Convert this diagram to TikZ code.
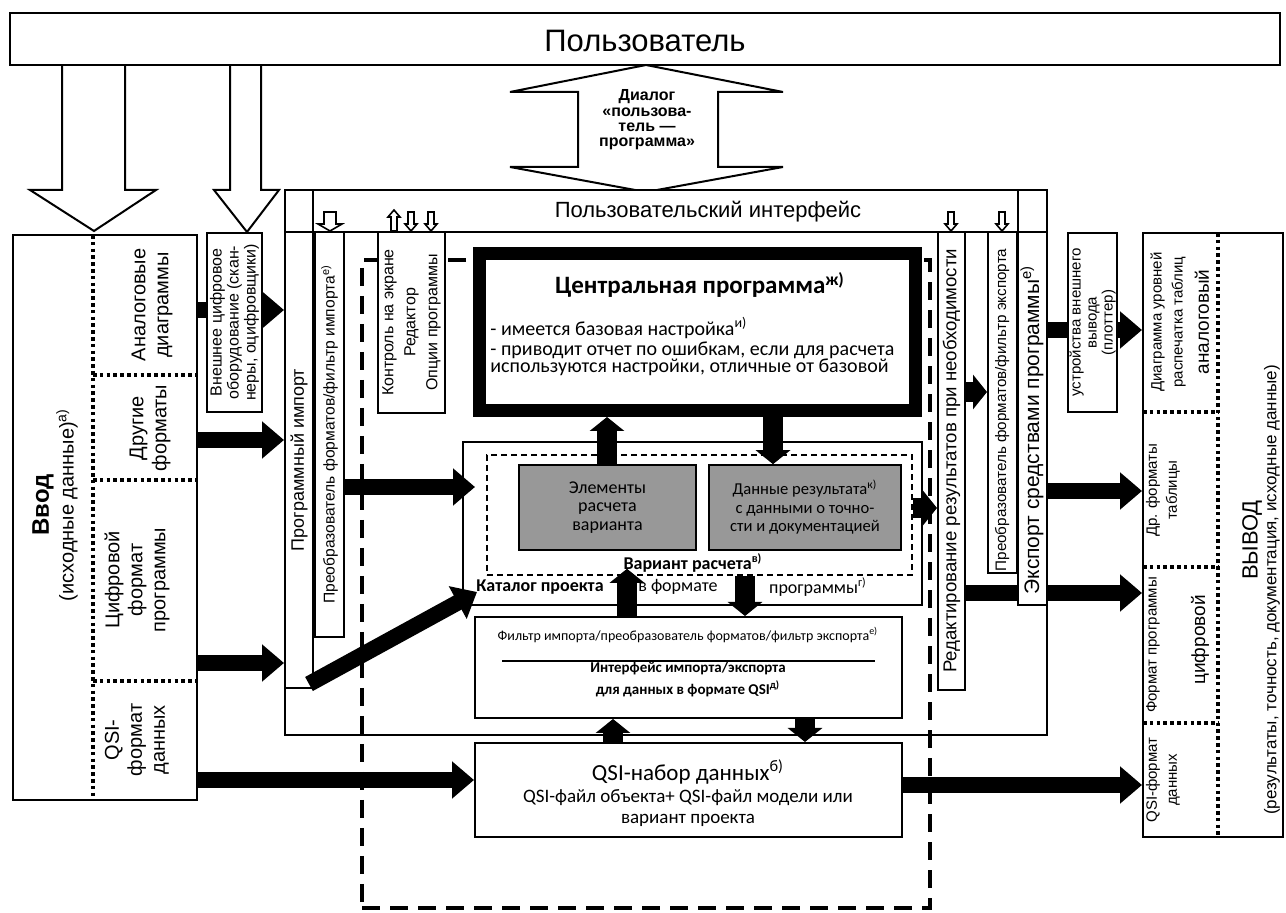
\documentclass[tikz,border=0pt]{standalone}
\usepackage{fontspec}
\setmainfont{Liberation Sans}
\newfontfamily\calfont{Carlito}
\usetikzlibrary{arrows.meta,fit,calc}
\newcommand\fz[2]{\fontsize{#1}{#2}\selectfont}
\definecolor{boxgray}{RGB}{152,152,152}
\newcommand\sarrow[6]{%
  \draw[hollow] ({#1-#2},#4) -- ({#1-#2},#5) -- ({#1-#3},#5) -- (#1,#6) -- ({#1+#3},#5) -- ({#1+#2},#5) -- ({#1+#2},#4) -- cycle;}
\tikzset{
 bx/.style={draw, line width=1pt, fill=white, inner sep=0pt},
 harr/.style={line width=8pt, -{Triangle[length=11pt,width=18pt]}},
 varr/.style={line width=10pt, -{Triangle[length=7pt,width=17pt]}},
 hollow/.style={draw, line width=0.8pt, fill=white, line join=miter},
 bighollow/.style={draw, line width=1pt, fill=white, line join=miter},
 dotl/.style={line width=1.8pt, dash pattern=on 1.8pt off 1.6pt},
 dsh/.style={draw, line width=1.6pt, dash pattern=on 9pt off 5pt, inner sep=0pt},
 txt/.style={inner sep=0pt, align=center},
 vt/.style={txt, rotate=90},
}
\begin{document}
\begin{tikzpicture}[x=0.5pt,y=-0.5pt]
\useasboundingbox (0,0) rectangle (1286,913);
\fill[white] (0,0) rectangle (1286,913);

% ---------- input and output boxes
\node[bx, fit={(13,235) (197,800)}] (inbox) {};
\draw[dotl] (93,235) -- (93,800);
\draw[dotl] (93,375) -- (197,375);
\draw[dotl] (93,480) -- (197,480);
\draw[dotl] (93,681) -- (197,681);
\node[vt, font=\bfseries\fz{12}{14}] (tIn1) at (43,505) {Ввод};
\node[vt, font=\fz{10}{12}] (tIn2) at (67,505) {(исходные данные)\textsuperscript{а)}};
\node[vt, font=\fz{10}{11.5}] (tInA) at (152,305) {Аналоговые\\диаграммы};
\node[vt, font=\fz{10}{11.5}] (tInB) at (150,428) {Другие\\форматы};
\node[vt, font=\fz{10}{11.5}] (tInC) at (137,580) {Цифровой\\формат\\программы};
\node[vt, font=\fz{10}{11.5}] (tInD) at (137,740) {QSI-\\формат\\данных};

\node[bx, fit={(1143,233) (1283,837)}] (outbox) {};
\draw[dotl] (1218,233) -- (1218,837);
\draw[dotl] (1143,412) -- (1218,412);
\draw[dotl] (1143,567) -- (1218,567);
\draw[dotl] (1143,723) -- (1218,723);
\node[vt, font=\fz{7.5}{10.5}] (tOutA) at (1168,322) {Диаграмма уровней\\распечатка таблиц};
\node[vt, font=\fz{9.5}{11}] (tOutA2) at (1202,322) {аналоговый};
\node[vt, font=\fz{7.5}{10}] (tOutB) at (1163,490) {Др. форматы\\таблицы};
\node[vt, font=\fz{7.5}{10}] (tOutC) at (1153,645) {Формат программы};
\node[vt, font=\fz{9.5}{11}] (tOutC2) at (1200,640) {цифровой};
\node[vt, font=\fz{7.5}{10}] (tOutD) at (1163,780) {QSI-формат\\данных};
\node[vt, font=\fz{11}{13}] (tOut1) at (1252,540) {ВЫВОД};
\node[vt, font=\fz{8.5}{10}] (tOut2) at (1272,590) {(результаты, точность, документация, исходные данные)};

% ---------- user and big hollow arrows
\draw[bighollow] (62,65) -- (62,190) -- (30,190) -- (94,231) -- (156,190) -- (125,190) -- (125,65);
\draw[bighollow] (230,65) -- (230,190) -- (214,190) -- (247,232) -- (279,190) -- (261,190) -- (261,65);
\node[bx, fit={(10,13) (1280,65)}] (user) {};
\node[txt, font=\fz{15.5}{17}] (tUser) at (645,41) {Пользователь};

% dialog double arrow
\draw[bighollow] (578,92) -- (510,92) -- (646,65) -- (783,92) -- (718,92) -- (718,167) -- (783,167) -- (646,192) -- (510,167) -- (578,167) -- cycle;
\node[txt, font=\bfseries\fz{8}{7.7}] (tDlg) at (647,120) {Диалог\\«пользова-\\тель —\\программа»};

% ---------- interface
\node[bx, fit={(285,190) (1047,735)}] (iface) {};
\node[dsh, fit={(362,260) (930,908)}] (core) {};
\draw[line width=1pt] (285,232) -- (1047,232);
\draw[line width=1pt] (313,190) -- (313,232);
\node[txt, font=\fz{11}{13}] (tIface) at (708,212) {Пользовательский интерфейс};

\node[bx, fit={(285,232) (313,688)}] (impL) {};
\node[vt, font=\fz{9}{10}] (tImpL) at (impL.center) {Программный импорт};
\node[bx, fit={(315,232) (344,637)}] (convL) {};
\node[vt, font=\fz{7.8}{9}] (tConvL) at (convL.center) {Преобразователь форматов/фильтр импорта\textsuperscript{е)}};
\node[bx, fit={(378,232) (445,413)}] (ctrl) {};
\node[vt, font=\fz{8}{11}] (tCtrl) at (ctrl.center) {Контроль на экране\\Редактор\\Опции программы};
\node[bx, fit={(938,232) (965,690)}] (edit) {};
\node[vt, font=\fz{9.3}{10}] (tEdit) at (edit.center) {Редактирование результатов при необходимости};
\node[bx, fit={(988,232) (1017,573)}] (convR) {};
\node[vt, font=\fz{7.6}{9}] (tConvR) at (1002,410) {Преобразователь форматов/фильтр экспорта};

% arrows passing behind boxes
\draw[harr] (edit.east |- 0,593) -- (outbox.west |- 0,593);
\node[bx, fit={(1018,190) (1047,605)}] (expR) {};
\draw[line width=1pt] (1018,232) -- (1047,232);
\node[vt, font=\fz{10.5}{12}] (tExpR) at (1032,430) {Экспорт средствами программы\textsuperscript{е)}};
\draw[harr] (expR.east |- 0,330) -- (outbox.west |- 0,330);
\node[bx, fit={(1068,233) (1117,412)}] (outdev) {};
\node[vt, font=\fz{7.5}{8}] (tOutdev) at (outdev.center) {устройства внешнего\\вывода\\(плоттер)};
\draw[harr] (expR.east |- 0,491) -- (outbox.west |- 0,491);

\draw[harr] (inbox.east |- 0,310) -- (iface.west |- 0,310);
\node[bx, fit={(207,233) (262,412)}] (ext) {};
\node[vt, font=\fz{8}{8.5}] (tExt) at (ext.center) {Внешнее цифровое\\оборудование (скан-\\неры, оцифровщики)};
\draw[harr] (inbox.east |- 0,440) -- (iface.west |- 0,440);
\draw[harr] (inbox.east |- 0,663) -- (iface.west |- 0,663);

% small hollow arrows in the interface bar
\sarrow{330}{6}{12}{212}{224}{231}
\sarrow{394}{3}{6}{231}{217}{210}
\sarrow{411}{3}{6}{212}{224}{231}
\sarrow{431}{3}{6}{212}{224}{231}
\sarrow{951}{3}{6}{212}{224}{231}
\sarrow{1002}{3}{6}{212}{224}{231}

% ---------- central program
\node[draw, line width=6.5pt, fill=white, inner sep=0pt, fit={(479.5,253.5) (915.5,410.5)}] (central) {};
\node[txt, font=\calfont\bfseries\fz{12.5}{15}] (tC0) at (700,285) {Центральная программа\textsuperscript{ж)}};
\node[anchor=west, inner sep=0pt, font=\calfont\fz{10}{12}] (tC1) at (490,328) {- имеется базовая настройка\textsuperscript{и)}};
\node[anchor=west, inner sep=0pt, font=\calfont\fz{10}{12}] (tC2) at (490,350) {- приводит отчет по ошибкам, если для расчета};
\node[anchor=west, inner sep=0pt, font=\calfont\fz{10}{12}] (tC3) at (490,367) {используются настройки, отличные от базовой};

% ---------- catalog / variant
\node[bx, fit={(463,442) (922,605)}] (cat) {};
\node[draw, line width=0.8pt, dash pattern=on 3pt off 2pt, inner sep=0pt, fit={(487,455) (912,575)}] (var) {};
\node[draw, line width=0.8pt, fill=boxgray, inner sep=0pt, fit={(519,465) (696,550)}] (elem) {};
\node[draw, line width=0.8pt, fill=boxgray, inner sep=0pt, fit={(709,465) (901,550)}] (data) {};
\node[txt, font=\calfont\fz{9}{9.3}] (tElem) at (elem.center) {Элементы\\расчета\\варианта};
\node[txt, font=\calfont\fz{8.3}{9.3}] (tData) at (data.center) {Данные результата\textsuperscript{к)}\\с данными о точно-\\сти и документацией};
\node[txt, font=\calfont\bfseries\fz{9}{10}] (tVar) at (693,563) {Вариант расчета\textsuperscript{в)}};
\node[txt, font=\calfont\bfseries\fz{9}{10}] (tCat1) at (540,587) {Каталог проекта};
\node[txt, font=\calfont\fz{9}{10}] (tCat2) at (678,587) {в формате};
\node[txt, font=\calfont\fz{9}{10}] (tCat3) at (818,587) {программы\textsuperscript{г)}};

% ---------- filter and QSI
\node[bx, fit={(475,617) (902,718)}] (filt) {};
\node[txt, font=\calfont\fz{7}{8}] (tF1) at (688,635) {Фильтр импорта/преобразователь форматов/фильтр экспорта\textsuperscript{е)}};
\draw[line width=0.6pt] (502,661) -- (875,661);
\node[txt, font=\calfont\bfseries\fz{7.5}{11}] (tF2) at (688,679) {Интерфейс импорта/экспорта\\для данных в формате QSI\textsuperscript{д)}};
\node[bx, fit={(475,743) (902,837)}] (qsi) {};
\node[txt, font=\calfont\fz{11.5}{13}] (tQ1) at (688,772) {QSI-набор данных\textsuperscript{б)}};
\node[txt, font=\calfont\fz{9.5}{10.5}] (tQ2) at (688,808) {QSI-файл объекта+ QSI-файл модели или\\вариант проекта};

% ---------- black arrows
\draw[varr] (elem.north -| 607,0) -- (central.south -| 607,0);
\draw[varr] (central.south -| 773,0) -- (data.north -| 773,0);
\draw[varr] (filt.north -| 627,0) -- ($(var.south -| 627,0)+(0,-7)$);
\draw[varr] (var.south -| 745,0) -- (filt.north -| 745,0);
\draw[varr] (qsi.north -| 613,0) -- (filt.south -| 613,0);
\draw[varr] (filt.south -| 805,0) -- (qsi.north -| 805,0);
\draw[varr] (var.east |- 0,508) -- (edit.west |- 0,508);
\draw[varr] (edit.east |- 0,392) -- (convR.west |- 0,392);
\draw[harr] (convL.east |- 0,487) -- ($(cat.west |- 0,487)+(13,0)$);
\coordinate (dg) at (309,684);
\draw[harr] (dg) -- ($(cat.west |- 0,592)+(15,0)$);
\draw[harr] (inbox.east |- 0,780) -- (qsi.west |- 0,780);
\draw[harr] (qsi.east |- 0,785) -- (outbox.west |- 0,785);
\end{tikzpicture}
\end{document}
